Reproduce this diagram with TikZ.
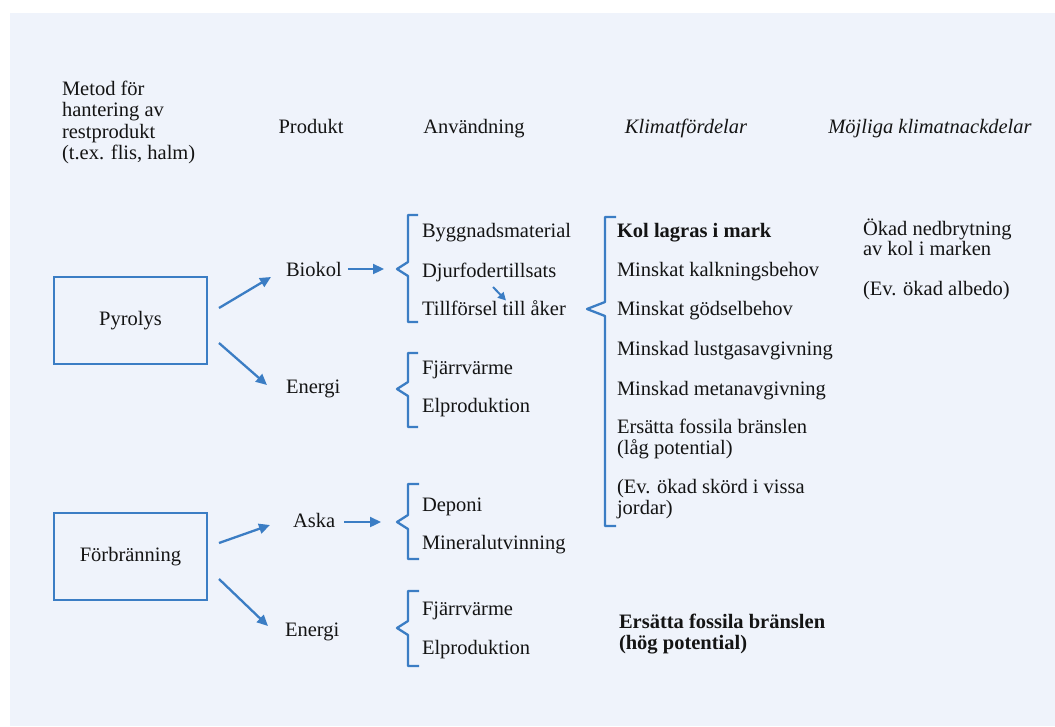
\documentclass[tikz,border=0pt]{standalone}
\usepackage{fontspec}
\setmainfont{Liberation Serif}
\usetikzlibrary{arrows.meta,calc}
\definecolor{panel}{RGB}{239,243,251}
\definecolor{blu}{RGB}{59,125,196}
\definecolor{ink}{RGB}{20,20,20}
\begin{document}
\begin{tikzpicture}[x=1pt,y=-1pt,
  every node/.style={font=\fontsize{20.5}{20.5}\selectfont, text=ink},
  txt/.style={anchor=base west, inner sep=0pt, outer sep=0pt, align=left},
  hd/.style={anchor=base, inner sep=0pt, outer sep=0pt},
  boxnode/.style={draw=blu, line width=2.2pt, minimum width=153pt, minimum height=87pt, inner sep=0pt, outer sep=0pt},
  arr/.style={draw=blu, line width=2.3pt, -{Triangle[length=11pt,width=10pt]}},
  smallarr/.style={draw=blu, line width=2pt, -{Triangle[length=8pt,width=8pt]}},
  brc/.style={draw=blu, line width=2.3pt, line join=round}]
\useasboundingbox (0,0) rectangle (1055,726);
\fill[white] (0,0) rectangle (1055,726);
\fill[panel] (10,13) rectangle (1055,726);

% headers (multi-line nodes are anchored at the baseline of their last line)
\node[txt, font=\fontsize{20.5}{21.5}\selectfont] (h1) at (62,159.5) {Metod för\\hantering av\\restprodukt\\(t.ex. flis, halm)};
\node[hd] (h2) at (311,133) {Produkt};
\node[hd] (h3) at (474,133) {Användning};
\node[hd] (h4) at (686,133) {\itshape Klimatfördelar};
\node[hd] (h5) at (930,133) {\itshape Möjliga klimatnackdelar};

% method boxes
\node[boxnode] (pyr) at (130.5,320.5) {Pyrolys};
\node[boxnode] (forb) at (130.5,556.5) {Förbränning};

% products
\node[txt] (biokol) at (286,276) {Biokol};
\node[txt] (en1) at (286,393) {Energi};
\node[txt] (aska) at (293,527) {Aska};
\node[txt] (en2) at (285,636) {Energi};

% uses
\node[txt] (u1) at (422,237) {Byggnadsmaterial};
\node[txt] (u2) at (422,277) {Djurfodertillsats};
\node[txt] (u3) at (422,315.5) {Tillförsel till åker};
\node[txt] (u4) at (422,374) {Fjärrvärme};
\node[txt] (u5) at (422,412) {Elproduktion};
\node[txt] (u6) at (422,511) {Deponi};
\node[txt] (u7) at (422,549) {Mineralutvinning};
\node[txt] (u8) at (422,615) {Fjärrvärme};
\node[txt] (u9) at (422,654) {Elproduktion};

% climate benefits
\node[txt, font=\fontsize{20.5}{20.5}\selectfont\bfseries] (k1) at (617,237) {Kol lagras i mark};
\node[txt] (k2) at (617,276) {Minskat kalkningsbehov};
\node[txt] (k3) at (617,315.5) {Minskat gödselbehov};
\node[txt] (k4) at (617,355.5) {Minskad lustgasavgivning};
\node[txt] (k5) at (617,395.5) {Minskad metanavgivning};
\node[txt] (k6) at (617,454) {Ersätta fossila bränslen\\(låg potential)};
\node[txt] (k7) at (617,514) {(Ev. ökad skörd i vissa\\jordar)};
\node[txt, font=\fontsize{20.5}{20.5}\selectfont\bfseries] (k8) at (619,649) {Ersätta fossila bränslen\\(hög potential)};

% drawbacks
\node[txt] (n1) at (863,255.5) {Ökad nedbrytning\\av kol i marken};
\node[txt] (n2) at (863,295) {(Ev. ökad albedo)};

% brace tips
\coordinate (b1) at (397,269);
\coordinate (b2) at (397,389);
\coordinate (b3) at (397,522);
\coordinate (b4) at (397,628);
\coordinate (bb) at (587,309);

% braces
\draw[brc] (418,215) -- (408,215) -- (408,262) -- (b1) -- (408,276) -- (408,322) -- (418,322);
\draw[brc] (418,353) -- (408,353) -- (408,382) -- (b2) -- (408,396) -- (408,427) -- (418,427);
\draw[brc] (419,484) -- (408,484) -- (408,515) -- (b3) -- (408,529) -- (408,559) -- (419,559);
\draw[brc] (419,591) -- (408,591) -- (408,621) -- (b4) -- (408,635) -- (408,666) -- (419,666);
\draw[brc] (616,217) -- (605,217) -- (605,302) -- (bb) -- (605,316) -- (605,526) -- (616,526);

% arrows
\draw[arr] ($(pyr.east)+(12,-12.5)$) -- ($(biokol.base west)+(-15,1)$);
\draw[arr] ($(pyr.east)+(12,22.5)$) -- ($(en1.base west)+(-19,-8)$);
\draw[arr] ($(forb.east)+(12,-13.5)$) -- ($(aska.base west)+(-23,-2)$);
\draw[arr] ($(forb.east)+(12,22.5)$) -- ($(en2.base west)+(-17,-10)$);
\draw[arr] ($(biokol.base east)+(6,-7)$) -- ($(b1)+(-13,0)$);
\draw[arr] ($(aska.base east)+(9,-5)$) -- ($(b3)+(-16,0)$);
\draw[smallarr] ($(u2.base west)+(71,10)$) -- ($(u3.base west)+(84,-15)$);
\end{tikzpicture}
\end{document}
